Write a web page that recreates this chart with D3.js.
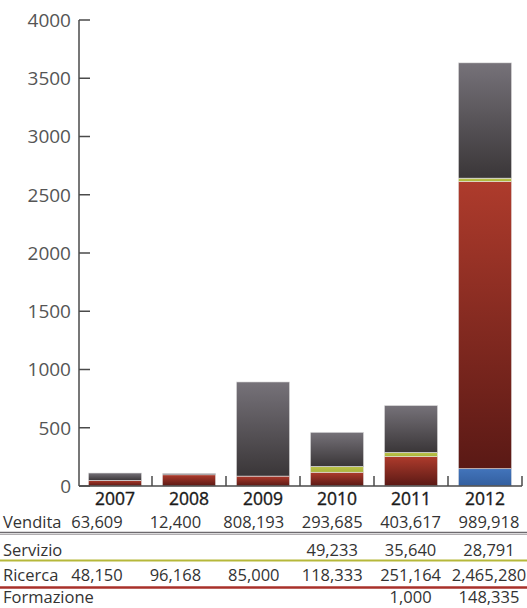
<!DOCTYPE html>
<html>
<head>
<meta charset="utf-8">
<script src="https://cdn.jsdelivr.net/npm/d3@7"></script>
<style>
  html, body { margin: 0; padding: 0; background: #fff; }
  svg { display: block; }
  text { font-family: "Open Sans", "Noto Sans", sans-serif; }
</style>
</head>
<body>
<script>
const years = ["2007", "2008", "2009", "2010", "2011", "2012"];
const vendita = [63609, 12400, 808193, 293685, 403617, 989918];
const servizio = [null, null, null, 49233, 35640, 28791];
const ricerca = [48150, 96168, 85000, 118333, 251164, 2465280];
const formazione = [null, null, null, null, 1000, 148335];
const yTicks = [0, 500, 1000, 1500, 2000, 2500, 3000, 3500, 4000];
const seriesNames = ["Vendita", "Servizio", "Ricerca", "Formazione"];

const W = 527, H = 608;
const svg = d3.select("body").append("svg").attr("width", W).attr("height", H);

const x = d3.scaleBand().domain(years).range([78, 522]).paddingInner(0.28).paddingOuter(0.14);
const y = d3.scaleLinear().domain([0, 4000]).range([486, 20]);
const col = d3.scalePoint().domain(years).range([97, 489]);

const rows = years.map((yr, i) => ({
  year: yr,
  Formazione: (formazione[i] || 0) / 1000,
  Ricerca: (ricerca[i] || 0) / 1000,
  Servizio: (servizio[i] || 0) / 1000,
  Vendita: (vendita[i] || 0) / 1000
}));
const keys = ["Formazione", "Ricerca", "Servizio", "Vendita"];
const stacked = d3.stack().keys(keys)(rows);

const defs = svg.append("defs");
function grad(id, c0, c1) {
  const g = defs.append("linearGradient").attr("id", id)
    .attr("x1", 0).attr("y1", 0).attr("x2", 0).attr("y2", 1);
  g.append("stop").attr("offset", "0%").attr("stop-color", c0);
  g.append("stop").attr("offset", "100%").attr("stop-color", c1);
}
grad("gVendita", "#767279", "#3a3638");
grad("gServizio", "#bcc44a", "#a9b23a");
grad("gRicerca", "#ae3b2c", "#5a1915");
grad("gFormazione", "#4274bb", "#335f9f");

svg.append("g").selectAll("g").data(stacked).join("g")
  .attr("fill", d => `url(#g${d.key})`)
  .selectAll("rect").data(d => d.filter(s => s[1] - s[0] > 0)).join("rect")
  .attr("x", d => x(d.data.year))
  .attr("width", x.bandwidth())
  .attr("y", d => y(d[1]))
  .attr("height", d => y(d[0]) - y(d[1]))
  .attr("stroke", "#e8e8e8").attr("stroke-width", 0.6);

// y axis
const yAxis = svg.append("g");
yAxis.append("line").attr("x1", 79).attr("x2", 79).attr("y1", y(4000)).attr("y2", y(0))
  .attr("stroke", "#4a4a4a").attr("stroke-width", 1.5);
yAxis.selectAll("line.t").data(yTicks).join("line").attr("class", "t")
  .attr("x1", 79).attr("x2", 90).attr("y1", d => y(d)).attr("y2", d => y(d))
  .attr("stroke", "#4a4a4a").attr("stroke-width", 1.5);
yAxis.selectAll("text").data(yTicks).join("text")
  .attr("x", 71).attr("y", d => y(d)).attr("dy", "0.36em")
  .attr("text-anchor", "end").attr("font-size", 19).attr("fill", "#555")
  .text(d => d);

// x baseline and separators
const step = x.step();
svg.append("line").attr("x1", 79).attr("x2", 522).attr("y1", y(0)).attr("y2", y(0))
  .attr("stroke", "#4a4a4a").attr("stroke-width", 1.5);
svg.selectAll("line.sep").data(years).join("line").attr("class", "sep")
  .attr("x1", d => x(d) + x.bandwidth() + step * x.paddingInner() / 2)
  .attr("x2", d => x(d) + x.bandwidth() + step * x.paddingInner() / 2)
  .attr("y1", y(0)).attr("y2", y(0) - 10)
  .attr("stroke", "#4a4a4a").attr("stroke-width", 1.5);

// year labels
svg.selectAll("text.yr").data(years).join("text").attr("class", "yr")
  .attr("x", d => x(d) + x.bandwidth() / 2).attr("y", 505)
  .attr("text-anchor", "middle").attr("font-size", 17.5)
  .attr("fill", "#1a1a1a").attr("stroke", "#1a1a1a").attr("stroke-width", 0.35)
  .text(d => d);

// table
const fmt = d3.format(",");
const tableRows = [
  { name: "Vendita", vals: vendita, y: 528 },
  { name: "Servizio", vals: servizio, y: 556 },
  { name: "Ricerca", vals: ricerca, y: 580.5 },
  { name: "Formazione", vals: formazione, y: 603.2 }
];
tableRows.forEach(r => {
  svg.append("text").attr("x", 3).attr("y", r.y).attr("font-size", 16.5)
    .attr("fill", "#333").text(r.name);
  svg.selectAll(null).data(r.vals.map((v, i) => ({ v, yr: years[i] })).filter(d => d.v != null))
    .join("text").attr("x", d => col(d.yr)).attr("y", r.y)
    .attr("text-anchor", "middle").attr("font-size", 16.5).attr("fill", "#333")
    .text(d => fmt(d.v));
});

// row separators
svg.append("line").attr("x1", 0).attr("x2", W).attr("y1", 532.5).attr("y2", 532.5)
  .attr("stroke", "#6d6a6e").attr("stroke-width", 1.6);
svg.append("line").attr("x1", 0).attr("x2", W).attr("y1", 534.5).attr("y2", 534.5)
  .attr("stroke", "#b0adb0").attr("stroke-width", 1.2);
svg.append("line").attr("x1", 0).attr("x2", W).attr("y1", 560.5).attr("y2", 560.5)
  .attr("stroke", "#b6b83a").attr("stroke-width", 2.2);
svg.append("line").attr("x1", 0).attr("x2", W).attr("y1", 587.5).attr("y2", 587.5)
  .attr("stroke", "#a8302a").attr("stroke-width", 2.6);
</script>
</body>
</html>
